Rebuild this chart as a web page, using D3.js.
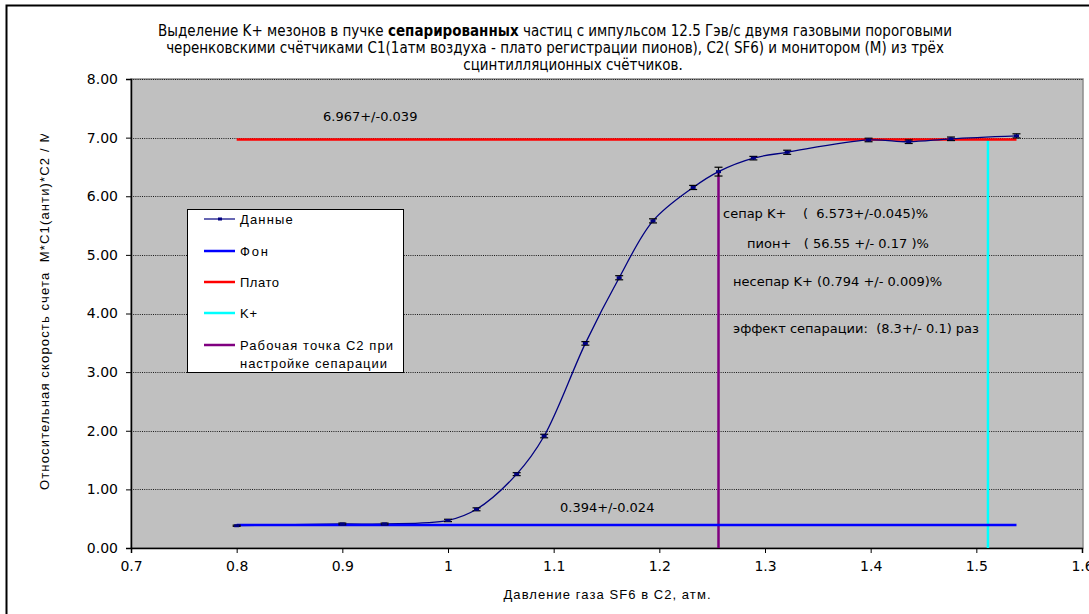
<!DOCTYPE html>
<html>
<head>
<meta charset="utf-8">
<script src="https://cdn.jsdelivr.net/npm/d3@7"></script>
<style>
  body { margin: 0; background: #fff; }
  text { white-space: pre; }
</style>
</head>
<body>
<div id="wrapper"></div>
<script>
// data
const pressure = [0.8, 0.9, 0.94, 1.0, 1.027, 1.065, 1.091, 1.13, 1.162, 1.194, 1.232, 1.256, 1.289, 1.321, 1.398, 1.436, 1.476, 1.538];
const rate     = [0.38, 0.41, 0.41, 0.47, 0.66, 1.26, 1.91, 3.49, 4.61, 5.58, 6.15, 6.42, 6.65, 6.75, 6.96, 6.93, 6.98, 7.03];
const rateErr  = [0.01, 0.015, 0.015, 0.02, 0.025, 0.025, 0.03, 0.03, 0.035, 0.035, 0.035, 0.075, 0.03, 0.035, 0.03, 0.03, 0.03, 0.035];

const fonLevel = 0.394;
const plateauLevel = 6.967;
const levelRange = [0.8, 1.538];
const workPoint = [1.256, 6.42];
const kPoint = [1.511, 6.967];

const xTicks = [0.7, 0.8, 0.9, 1.0, 1.1, 1.2, 1.3, 1.4, 1.5, 1.6];
const xTickLabels = ["0.7", "0.8", "0.9", "1", "1.1", "1.2", "1.3", "1.4", "1.5", "1.6"];
const yTicks = [0, 1, 2, 3, 4, 5, 6, 7, 8];

const titleLines = [
  ["Выделение K+ мезонов в пучке ", "сепарированных", " частиц с импульсом 12.5 Гэв/с двумя газовыми пороговыми"],
  ["черенковскими счётчиками C1(1атм воздуха - плато регистрации пионов), C2( SF6) и монитором (M) из трёх"],
  ["сцинтилляционных счётчиков."]
];
const legendItems = [
  { label: ["Данные"], color: "#000080", width: 1.2, marker: true },
  { label: ["Фон"], color: "#0000ff", width: 2.5 },
  { label: ["Плато"], color: "#ff0000", width: 2.5 },
  { label: ["K+"], color: "#00ffff", width: 2.5 },
  { label: ["Рабочая точка C2 при", "настройке сепарации"], color: "#800080", width: 2.5 }
];
const notes = [
  "сепар K+    (  6.573+/-0.045)%",
  "пион+   ( 56.55 +/- 0.17 )%",
  "несепар K+ (0.794 +/- 0.009)%",
  "эффект сепарации:  (8.3+/- 0.1) раз"
];

let dimensions = {
  width: 1089,
  height: 614,
}

const svg = d3.select("#wrapper").append("svg")
  .attr("width", dimensions.width)
  .attr("height", dimensions.height);

// chart border (right/bottom fall outside the picture)
svg.append("rect")
  .attr("x", 6.5).attr("y", 5.5)
  .attr("width", 1200).attr("height", 800)
  .attr("fill", "#fff").attr("stroke", "#000").attr("stroke-width", 2);

const xScale = d3.scaleLinear().domain([0.7, 1.6]).range([131, 1082]);
const yScale = d3.scaleLinear().domain([0, 8]).range([548, 79]);

// plot area
svg.append("rect")
  .attr("x", xScale(0.7)).attr("y", yScale(8))
  .attr("width", 1083 - xScale(0.7)).attr("height", yScale(0) - yScale(8))
  .attr("fill", "#c0c0c0").attr("stroke", "#8c8c8c").attr("stroke-width", 1.5);

// gridlines
svg.append("g").selectAll("line")
  .data(yTicks.filter(d => d > 0))
  .join("line")
  .attr("x1", xScale(0.7)).attr("x2", 1083)
  .attr("y1", d => Math.round(yScale(d)) + 0.5).attr("y2", d => Math.round(yScale(d)) + 0.5)
  .attr("stroke", "#1a1a1a").attr("stroke-width", 1)
  .attr("stroke-dasharray", "1 1.2");

// axes
const xAxis = d3.axisBottom(xScale).tickValues(xTicks)
  .tickFormat((d, i) => xTickLabels[i]).tickSize(5).tickPadding(8);
const xg = svg.append("g").attr("transform", `translate(0,${yScale(0)})`).call(xAxis);
const yAxis = d3.axisLeft(yScale).tickValues(yTicks)
  .tickFormat(d3.format(".2f")).tickSize(5).tickPadding(8);
const yg = svg.append("g").attr("transform", `translate(${xScale(0.7)},0)`).call(yAxis);
[xg, yg].forEach(g => {
  g.select(".domain").attr("stroke", "#000").attr("stroke-width", 1.5);
  g.selectAll(".tick line").attr("stroke", "#000");
  g.selectAll(".tick text").attr("fill", "#000")
    .style("font-family", "'DejaVu Sans', sans-serif").style("font-size", "14px");
});

// reference lines
const hLine = (level, color) => svg.append("line")
  .attr("x1", xScale(levelRange[0])).attr("x2", xScale(levelRange[1]))
  .attr("y1", yScale(level)).attr("y2", yScale(level))
  .attr("stroke", color).attr("stroke-width", 2.5);
const vLine = (pt, color) => svg.append("line")
  .attr("x1", xScale(pt[0])).attr("x2", xScale(pt[0]))
  .attr("y1", yScale(0)).attr("y2", yScale(pt[1]))
  .attr("stroke", color).attr("stroke-width", 2.5);

vLine(workPoint, "#800080");
vLine(kPoint, "#00ffff");
hLine(plateauLevel, "#ff0000");

// data curve
const points = pressure.map((p, i) => ({ x: p, y: rate[i], e: rateErr[i] }));
svg.append("path")
  .datum(points)
  .attr("fill", "none")
  .attr("stroke", "#000080")
  .attr("stroke-width", 1.3)
  .attr("d", d3.line().x(d => xScale(d.x)).y(d => yScale(d.y)).curve(d3.curveCatmullRom.alpha(0.5)));

hLine(fonLevel, "#0000ff");

// error bars
const eb = svg.append("g").attr("stroke", "#000").attr("stroke-width", 1.2);
points.forEach(d => {
  const cx = xScale(d.x);
  const y1 = yScale(d.y - d.e), y2 = yScale(d.y + d.e);
  eb.append("line").attr("x1", cx).attr("x2", cx).attr("y1", y1).attr("y2", y2);
  eb.append("line").attr("x1", cx - 4).attr("x2", cx + 4).attr("y1", y1).attr("y2", y1);
  eb.append("line").attr("x1", cx - 4).attr("x2", cx + 4).attr("y1", y2).attr("y2", y2);
});

// markers
svg.append("g").selectAll("rect")
  .data(points)
  .join("rect")
  .attr("x", d => xScale(d.x) - 2.5).attr("y", d => yScale(d.y) - 1.5)
  .attr("width", 5).attr("height", 3)
  .attr("fill", "#000080");

// value labels
const noteFont = "'DejaVu Sans', sans-serif";
svg.append("text").attr("x", 323).attr("y", 121).text("6.967+/-0.039")
  .style("font-family", noteFont).style("font-size", "13px");
svg.append("text").attr("x", 560).attr("y", 512).text("0.394+/-0.024")
  .style("font-family", noteFont).style("font-size", "13px");

const notePos = [[723, 218], [747, 248], [733, 286], [733, 333]];
notes.forEach((t, i) => {
  svg.append("text").attr("x", notePos[i][0]).attr("y", notePos[i][1]).text(t)
    .style("font-family", noteFont).style("font-size", "13px");
});

// title: size the font so the first line is as wide as in the picture
const titleY = [36, 53, 70];
const titleX = [555, 555, 573];
const titleNodes = titleLines.map((parts, i) => {
  const t = svg.append("text")
    .attr("x", titleX[i]).attr("y", titleY[i])
    .attr("text-anchor", "middle")
    .style("font-family", "'Liberation Sans Narrow', 'DejaVu Sans Condensed', sans-serif")
    .style("font-size", "14px");
  parts.forEach((p, j) => {
    t.append("tspan").text(p).style("font-weight", i === 0 && j === 1 ? "bold" : "normal");
  });
  return t;
});
const titleScale = 794 / titleNodes[0].node().getComputedTextLength();
titleNodes.forEach(t => t.style("font-size", (14 * Math.min(titleScale, 1.15)) + "px"));
titleNodes[0].attr("textLength", 794).attr("lengthAdjust", "spacingAndGlyphs");

// legend
const legend = svg.append("g");
legend.append("rect")
  .attr("x", 187.5).attr("y", 209.5).attr("width", 216).attr("height", 163)
  .attr("fill", "#fff").attr("stroke", "#000").attr("stroke-width", 1);
const legendY = [219, 251, 282, 313, 345];
const legendLen = [[52.7], [28], [39], [17], [153, 147]];
legendItems.forEach((item, i) => {
  const y = legendY[i];
  legend.append("line").attr("x1", 204).attr("x2", 235).attr("y1", y).attr("y2", y)
    .attr("stroke", item.color).attr("stroke-width", item.width);
  if (item.marker) {
    legend.append("rect").attr("x", 218).attr("y", y - 1.5).attr("width", 4).attr("height", 3)
      .attr("fill", item.color);
  }
  item.label.forEach((l, j) => {
    legend.append("text").attr("x", 240).attr("y", y + 4.5 + j * 18)
      .attr("textLength", legendLen[i][j]).attr("lengthAdjust", "spacing")
      .text(l)
      .style("font-family", "'Liberation Sans', Arial, sans-serif").style("font-size", "13px");
  });
});

// axis titles
svg.append("text")
  .attr("x", 607).attr("y", 599)
  .attr("text-anchor", "middle")
  .attr("textLength", 207).attr("lengthAdjust", "spacing")
  .text("Давление газа SF6 в C2, атм.")
  .style("font-family", "'Liberation Sans', Arial, sans-serif").style("font-size", "13px");

// the y title is cut off at its top end in the picture
svg.append("clipPath").attr("id", "ylab-clip")
  .append("rect").attr("x", 0).attr("y", 134).attr("width", 100).attr("height", 480);
svg.append("g").attr("clip-path", "url(#ylab-clip)")
  .append("text")
  .attr("transform", "translate(49,490) rotate(-90)")
  .style("letter-spacing", "1.15px")
  .text("Относительная скорость счета  M*C1(анти)*C2 / M")
  .style("font-family", "'Liberation Sans', Arial, sans-serif").style("font-size", "13px");
</script>
</body>
</html>
